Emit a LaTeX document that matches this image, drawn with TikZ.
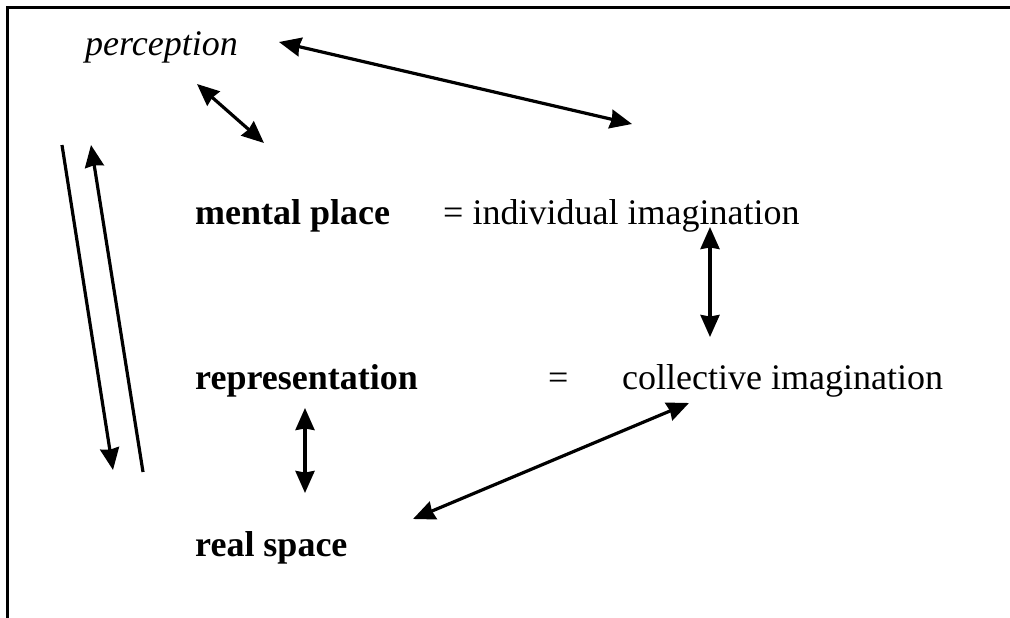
\documentclass[tikz,border=0pt]{standalone}
\usepackage{fontspec}
\setmainfont{Liberation Serif}
\usetikzlibrary{arrows.meta}
\begin{document}
\begin{tikzpicture}[x=1pt,y=-1pt,
  lbl/.style={anchor=base west,inner sep=0pt,font=\fontsize{36}{40}\selectfont},
  bold/.style={lbl,font=\fontsize{36}{40}\selectfont\bfseries},
  tip/.tip={Stealth[length=22pt,width=19pt,inset=1.5pt]},
  link/.style={line width=3.2pt,tip-tip},
  oneway/.style={line width=3.2pt,-tip}]
\useasboundingbox (0,0) rectangle (1010,618);
% open frame: top and left edges
\draw[line width=2.2pt] (1010,7.5) -- (7.5,7.5) -- (7.5,618);

% labels
\node[lbl,font=\fontsize{36}{40}\selectfont\itshape] (perc) at (85,56) {perception};
\node[bold] (mental) at (195,224) {mental place};
\node[lbl] (indiv) at (443,224) {= individual imagination};
\node[bold] (repr) at (195,389) {representation};
\node[lbl] (eq) at (548,389) {=};
\node[lbl] (coll) at (622,389) {collective imagination};
\node[bold] (real) at (195,556) {real space};

% connector end points
\coordinate (p1) at (279,42);   \coordinate (p2) at (632,124);
\coordinate (q1) at (197,84);   \coordinate (q2) at (264,143);
\coordinate (i1) at (710,227);  \coordinate (i2) at (710,337);
\coordinate (r1) at (305,408);  \coordinate (r2) at (305,493);
\coordinate (s1) at (413,519);  \coordinate (s2) at (689,403);
\coordinate (d1) at (62,145);   \coordinate (d2) at (113,470);
\coordinate (u1) at (143,472);  \coordinate (u2) at (91,145);

% connectors
\draw[link] (p1) -- (p2);
\draw[link] (q1) -- (q2);
\draw[link] (i1) -- (i2);
\draw[link] (r1) -- (r2);
\draw[link] (s1) -- (s2);
\draw[oneway] (d1) -- (d2);
\draw[oneway] (u1) -- (u2);
\end{tikzpicture}
\end{document}
